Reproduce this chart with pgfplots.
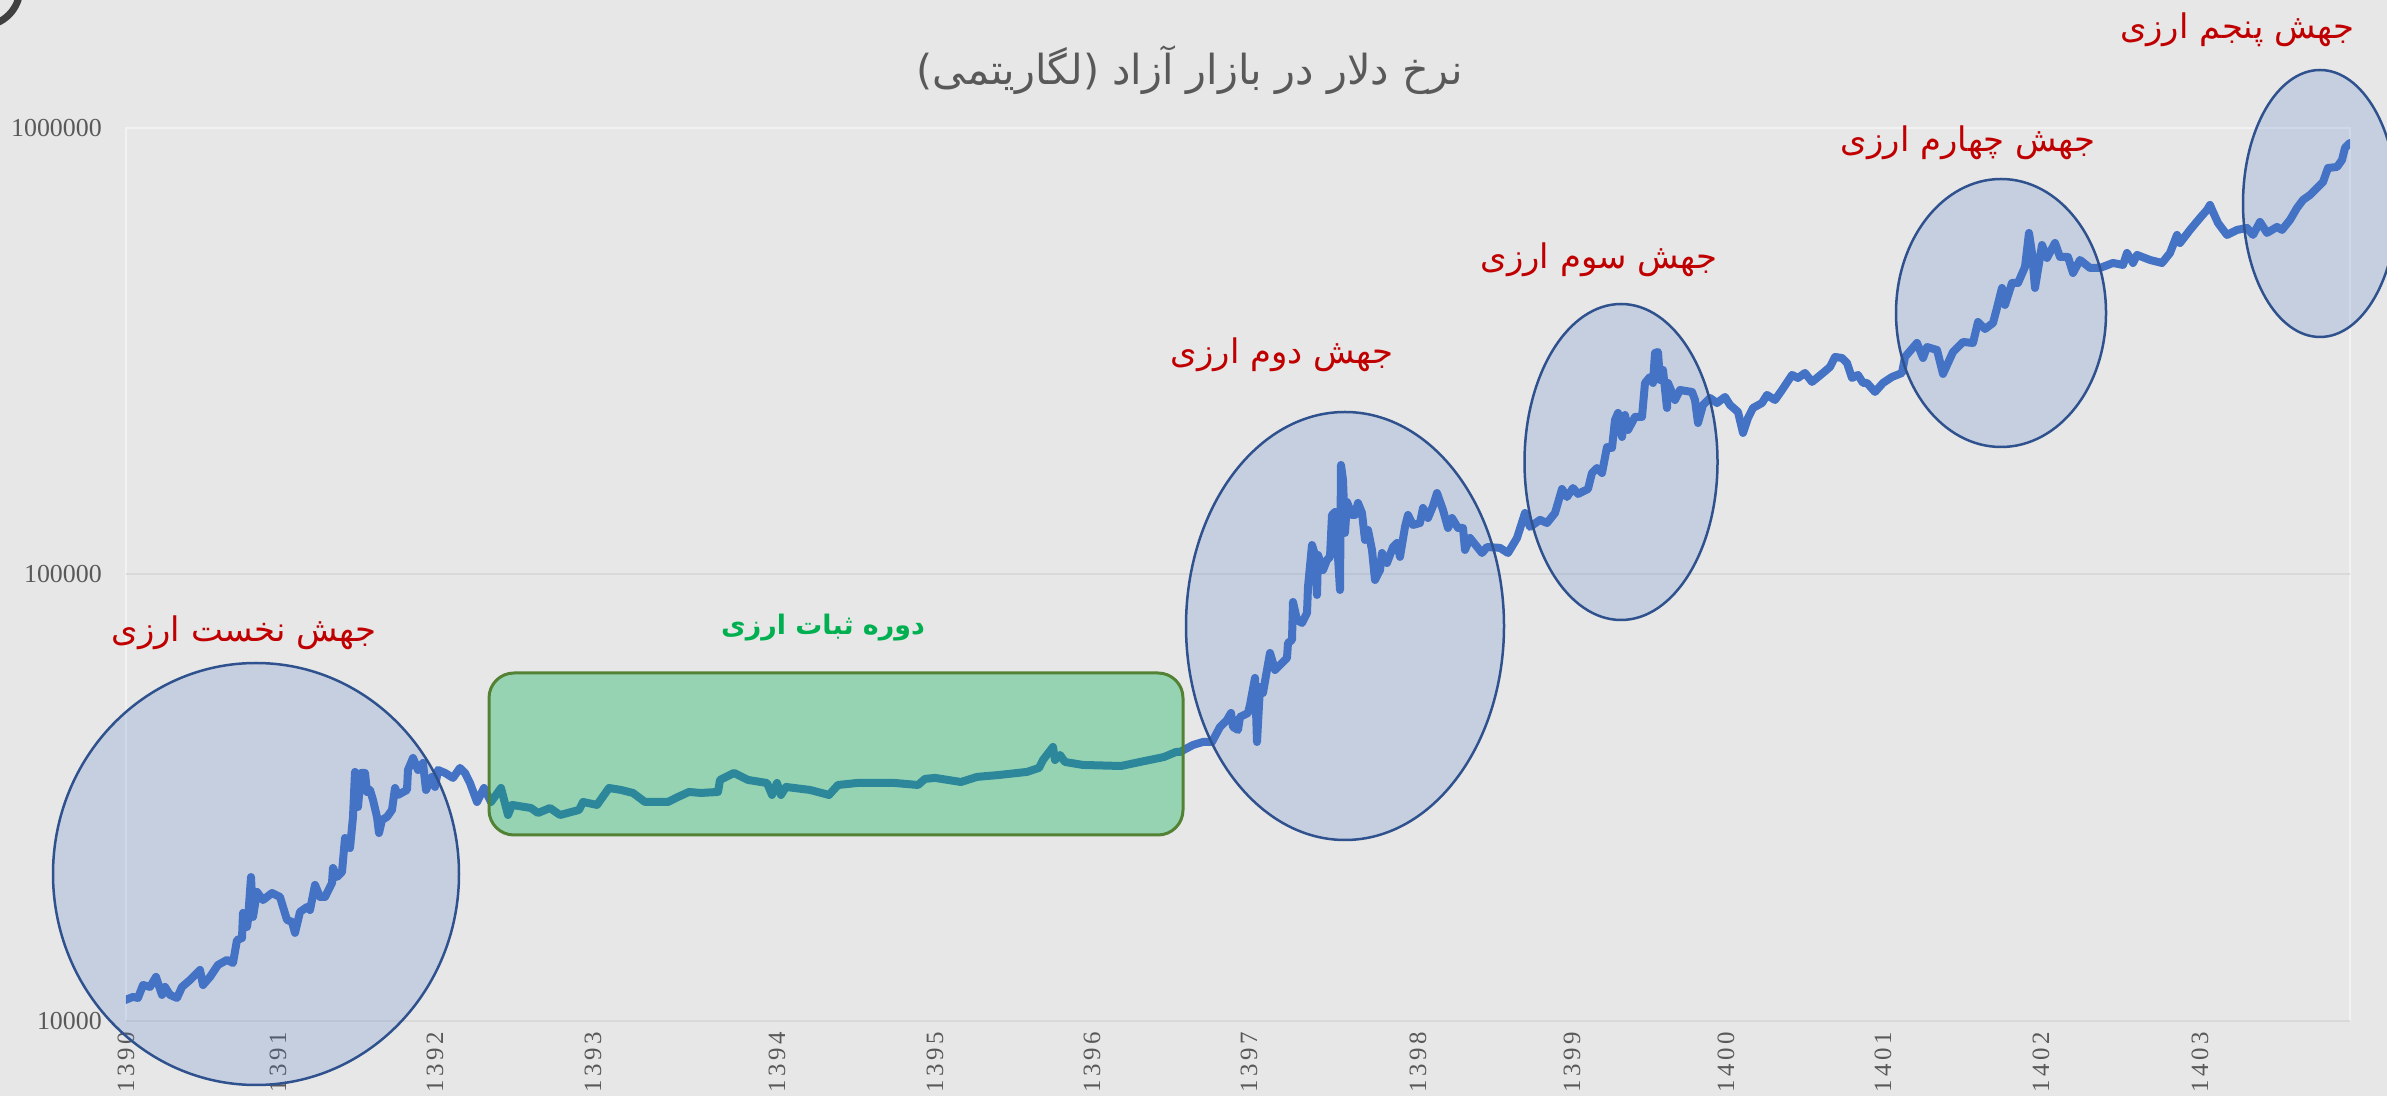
\documentclass[border=0pt]{standalone}
\usepackage{fontspec}
\usepackage{pgfplots}
\pgfplotsset{compat=1.18}
\setmainfont{Liberation Serif}
\newfontfamily\spacedserif[LetterSpace=14]{Liberation Serif}
\newfontfamily\arabicfont[Script=Arabic]{DejaVu Sans}
\TeXXeTstate=1
\definecolor{bgc}{HTML}{E7E7E7}
\definecolor{tickc}{HTML}{595959}
\definecolor{linec}{HTML}{4472C4}
\definecolor{redc}{HTML}{C00000}
\definecolor{greenc}{HTML}{00B050}
\definecolor{ellc}{HTML}{2F528F}
\definecolor{boxc}{HTML}{548235}
\definecolor{gridc}{HTML}{D9D9D9}
\definecolor{borderc}{HTML}{F2F2F2}
\begin{document}
\begin{tikzpicture}
\useasboundingbox (0,0) rectangle (2387bp,1096bp);
\clip (0,0) rectangle (2387bp,1096bp);
\fill[bgc] (0,0) rectangle (2387bp,1096bp);
\draw[color=black!75, line width=7bp] (-18bp,1108bp) circle (38bp);
\begin{axis}[
  at={(126bp,75bp)}, anchor=south west,
  scale only axis, width=2224bp, height=893bp,
  xmin=126, xmax=2350,
  ymode=log, ymin=10000, ymax=1000000,
  axis line style={draw=none},
  axis background/.style={draw=borderc, line width=2bp},
  ymajorgrids, major grid style={gridc, line width=2bp},
  yminorticks=false, xminorticks=false,
  major tick length=0pt,
  ytick={10000,100000}, yticklabels={10000,100000},
  extra y ticks={1000000}, extra y tick labels={1000000},
  extra y tick style={grid=none},
  xtick={126,278,435,593,777,935,1092,1249,1418,1572,1726,1883,2041,2200},
  xticklabels={1390,1391,1392,1393,1394,1395,1396,1397,1398,1399,1400,1401,1402,1403},
  xticklabel style={rotate=90, anchor=east, inner sep=0pt, font=\spacedserif\fontsize{25}{30}\selectfont, text=tickc},
  yticklabel style={anchor=east, inner sep=0pt, font=\fontsize{26}{30}\selectfont, text=tickc},
  xticklabel shift=11bp, yticklabel shift=24bp,
  /pgf/number format/assume math mode=true,
]
\addplot[color=linec, line width=8bp, line join=round, line cap=round] table {
x y
125 11140
133 11320
138 11260
143 12040
150 11920
156 12550
162 11440
165 11920
170 11440
177 11260
182 11920
190 12350
200 13010
203 12040
210 12550
218 13350
227 13700
233 13490
237 15180
242 15340
243 17460
247 16240
248 16840
251 21010
253 17100
257 19450
263 18660
272 19350
280 18960
287 16840
292 16670
295 15750
300 17550
307 18000
310 17730
315 20170
320 18960
325 18960
332 20370
333 22010
337 21010
342 21560
345 25690
350 24400
353 28640
355 36130
358 30150
361 35940
365 35940
367 32580
370 32920
373 31260
377 28640
379 26360
382 28200
387 28640
392 29690
395 33250
398 32080
407 32920
408 36500
413 38820
418 36500
423 37830
426 32920
432 35210
435 33430
438 36500
445 35940
453 35030
460 36880
465 35940
470 34120
477 30940
484 33250
491 30940
501 33250
508 28930
512 30470
531 29990
538 29230
550 29990
560 28930
579 29690
583 30940
597 30470
609 33250
621 32920
633 32410
645 30940
668 30940
678 31750
689 32580
701 32410
718 32580
720 34670
734 35940
748 34670
767 34120
772 32080
777 34120
781 32080
786 33430
810 32920
829 32080
838 33770
857 34120
895 34120
918 33770
925 34850
935 35030
961 34300
977 35210
999 35560
1027 36130
1039 36880
1043 38420
1053 41090
1055 38420
1060 39430
1065 38030
1083 37450
1121 37250
1140 38030
1164 39020
1176 40040
1180 40040
1193 41510
1203 42160
1212 42160
1220 45550
1227 47220
1231 48950
1233 45550
1238 44850
1240 47960
1248 48950
1250 51020
1255 58660
1257 42160
1260 56000
1263 54290
1267 61130
1270 66720
1275 61130
1280 62720
1287 65020
1288 70260
1292 71350
1293 86780
1297 79090
1302 77880
1307 82000
1308 93760
1312 116400
1315 110600
1317 89970
1318 110600
1323 102300
1327 107800
1330 109500
1332 135900
1335 138000
1338 109500
1340 92310
1341 175900
1343 162800
1345 123900
1347 145300
1352 135900
1355 135900
1358 144600
1362 137300
1365 119500
1368 125800
1372 113500
1375 97210
1380 102300
1382 111700
1387 106100
1393 115200
1397 117600
1400 109500
1405 127800
1408 135900
1413 129100
1420 130400
1423 140900
1428 133800
1433 142400
1437 152200
1443 139500
1448 127100
1452 133800
1458 127100
1463 127100
1465 113500
1470 120700
1482 111700
1487 115200
1500 114700
1508 111700
1517 120700
1525 137300
1530 127800
1540 132500
1547 130400
1555 137300
1562 155400
1567 149100
1573 156200
1578 151500
1588 155400
1592 168800
1597 173200
1602 168800
1607 193000
1612 192000
1615 221800
1618 230000
1622 203200
1625 227600
1628 210700
1635 225300
1642 225300
1645 268500
1650 276900
1653 268500
1655 313300
1658 315000
1660 272700
1663 287100
1667 236000
1668 268500
1675 245900
1680 258900
1692 256300
1695 245900
1698 218400
1703 239700
1710 248500
1717 242100
1725 249800
1730 239700
1738 231200
1743 207500
1748 224100
1753 236000
1762 242100
1767 252400
1775 245900
1782 258900
1792 279800
1798 275500
1805 282700
1812 269900
1823 282700
1830 291600
1835 307000
1842 305400
1847 297600
1852 275500
1858 279800
1863 268500
1867 268500
1875 256300
1883 268500
1892 276900
1902 282700
1905 307000
1917 330000
1923 305400
1927 323200
1937 318300
1943 281300
1953 315000
1963 331700
1973 330000
1978 367700
1985 354700
1993 365800
1997 395400
2002 438200
2005 401500
2012 449600
2018 449600
2025 488300
2029 582000
2032 524800
2035 438200
2042 546900
2047 511600
2055 552600
2060 514200
2068 514200
2073 473400
2080 506300
2090 485800
2100 485800
2113 498500
2123 493400
2127 524800
2133 498500
2137 519500
2150 506300
2162 498500
2170 524800
2177 576000
2180 552600
2190 591100
2200 628800
2207 655300
2210 672400
2213 648600
2218 612800
2227 576000
2237 591100
2247 597200
2253 576000
2260 615900
2267 582000
2277 600300
2282 591100
2290 622300
2297 662100
2303 690000
2310 707900
2317 734000
2323 756900
2328 813600
2337 817800
2342 847800
2345 902400
2350 925900
};
\end{axis}
% ellipses
\filldraw[fill=linec, fill opacity=0.2, draw=ellc, line width=2.5bp] (256bp,222bp) ellipse [x radius=203bp, y radius=211bp];
\filldraw[fill=linec, fill opacity=0.2, draw=ellc, line width=2.5bp] (1345bp,470bp) ellipse [x radius=159bp, y radius=214bp];
\filldraw[fill=linec, fill opacity=0.2, draw=ellc, line width=2.5bp] (1621bp,634bp) ellipse [x radius=96.5bp, y radius=158bp];
\filldraw[fill=linec, fill opacity=0.2, draw=ellc, line width=2.5bp] (2001bp,783bp) ellipse [x radius=105bp, y radius=134bp];
\filldraw[fill=linec, fill opacity=0.2, draw=ellc, line width=2.5bp] (2320bp,892.5bp) ellipse [x radius=77bp, y radius=133.5bp];
% stability box
\filldraw[fill=greenc, fill opacity=0.35, draw=boxc, line width=3bp, rounded corners=25bp] (489bp,261bp) rectangle (1183bp,423bp);
% texts
\node[text=tickc, font=\arabicfont\fontsize{41.5}{48}\selectfont] at (1190bp,1026bp) {\beginR نرخ دلار در بازار آزاد (لگاریتمی)\endR};
\node[text=redc, font=\arabicfont\fontsize{34}{40}\selectfont] at (244bp,463bp) {\beginR جهش نخست ارزی\endR};
\node[text=greenc, font=\arabicfont\bfseries\fontsize{27}{32}\selectfont] at (823bp,468bp) {\beginR دوره ثبات ارزی\endR};
\node[text=redc, font=\arabicfont\fontsize{34}{40}\selectfont] at (1282bp,741bp) {\beginR جهش دوم ارزی\endR};
\node[text=redc, font=\arabicfont\fontsize{34}{40}\selectfont] at (1599bp,836bp) {\beginR جهش سوم ارزی\endR};
\node[text=redc, font=\arabicfont\fontsize{34}{40}\selectfont] at (1968bp,953bp) {\beginR جهش چهارم ارزی\endR};
\node[text=redc, font=\arabicfont\fontsize{34}{40}\selectfont] at (2237bp,1066bp) {\beginR جهش پنجم ارزی\endR};
\end{tikzpicture}
\end{document}
